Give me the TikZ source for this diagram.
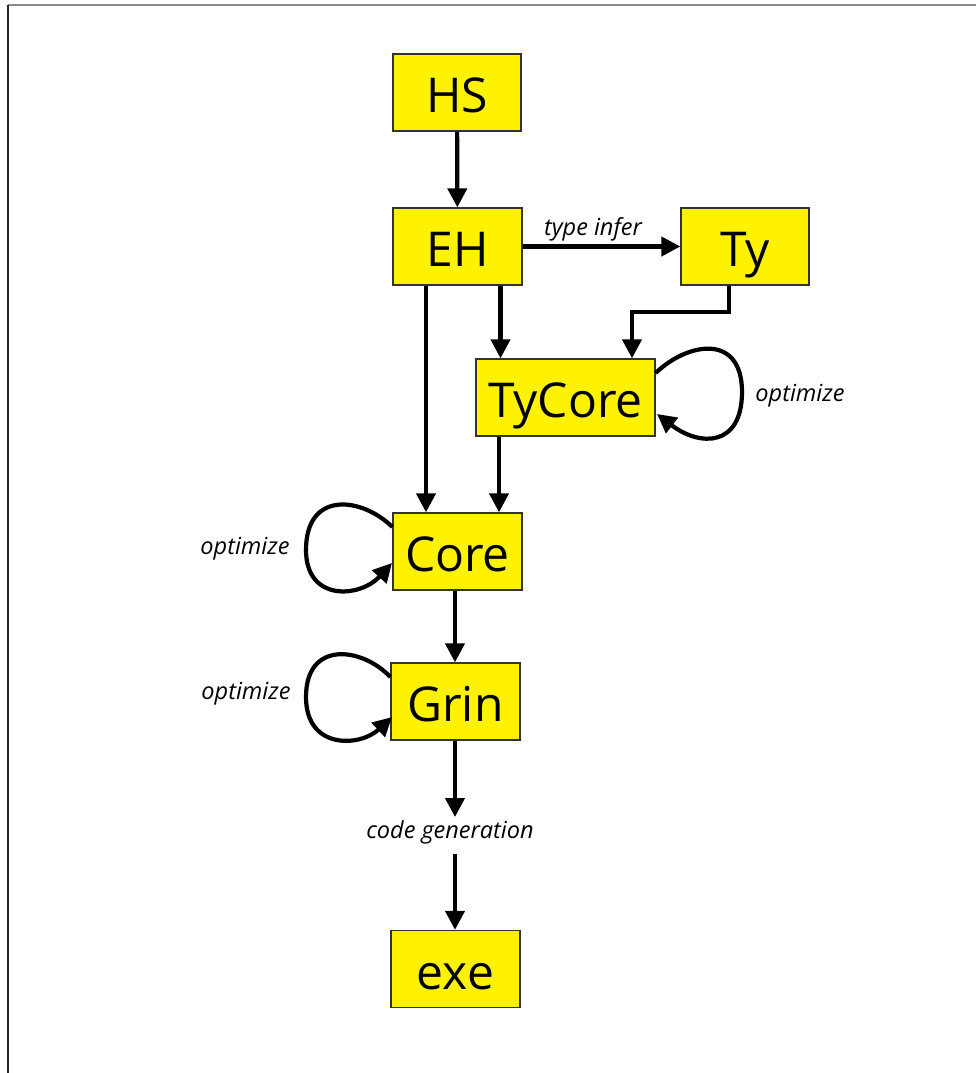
\documentclass[tikz,border=0pt]{standalone}
\usepackage{fontspec}
\setmainfont{Open Sans}
\usetikzlibrary{arrows.meta}
\begin{document}
\begin{tikzpicture}[x=1pt,y=-1pt,
  box/.style={draw=black!80,line width=1.3pt,fill=yellow,minimum height=77pt,inner sep=0pt,
    text height=40pt,text depth=0pt,font=\fontsize{48}{50}\selectfont},
  lbl/.style={inner sep=0pt,font=\itshape\fontsize{23.5}{26}\selectfont},
  conn/.style={line width=4.2pt,-{Triangle[length=19pt,width=19pt]}}]
\useasboundingbox (0,0) rectangle (976,1073);
\draw[black!45,line width=1.5pt] (8,5) -- (976,5);
\draw[black!85,line width=2.2pt] (8,5) -- (8,1073);
% nodes
\node[box,minimum width=128pt] (hs) at (457,92.5) {HS};
\node[box,minimum width=129pt] (eh) at (457.5,246.5) {EH};
\node[box,minimum width=128pt] (ty) at (745,246.5) {Ty};
\node[box,minimum width=179pt] (tycore) at (565.5,397.5) {TyCore};
\node[box,minimum width=129pt] (core) at (457.5,551.5) {Core};
\node[box,minimum width=129pt] (grin) at (455.5,701.5) {Grin};
\node[box,minimum width=129pt] (exe) at (455.5,969) {exe};
% labels
\node[lbl] (ltype) at (593,229) {type infer};
\node[lbl] (lopt1) at (800,396) {optimize};
\node[lbl] (lopt2) at (245,549) {optimize};
\node[lbl] (lopt3) at (246,694) {optimize};
\node[lbl] (lcode) at (450,832) {code generation};
% connectors
\draw[conn] (hs) -- (eh);
\draw[conn] (eh.east) -- (ty.west);
\draw[conn] (eh.south -| 426,0) -- (core.north -| 426,0);
\draw[conn] (eh.south -| 500.5,0) -- (tycore.north -| 500.5,0);
\draw[conn] (ty.south -| 729,0) |- (632,312) -- (tycore.north -| 632,0);
\draw[conn] (tycore.south -| 499,0) -- (core.north -| 499,0);
\draw[conn] (core.south -| 455,0) -- (grin.north -| 455,0);
\draw[conn] (grin.south -| 455,0) -- (455,817);
\coordinate (cgt) at (455,854);
\draw[conn] (cgt) -- (exe.north -| 455,0);
% loops
\draw[conn] (tycore.east |- 0,373) .. controls (688,342) and (742,333) .. (742,392)
  .. controls (742,447) and (700,447) .. (657,414);
\draw[conn] (core.west |- 0,527) .. controls (362,497) and (306,490) .. (306,550)
  .. controls (306,602) and (360,598) .. (392,563);
\draw[conn] (grin.west |- 0,677) .. controls (362,647) and (306,640) .. (306,697)
  .. controls (306,750) and (360,747) .. (392,717);
\end{tikzpicture}
\end{document}
